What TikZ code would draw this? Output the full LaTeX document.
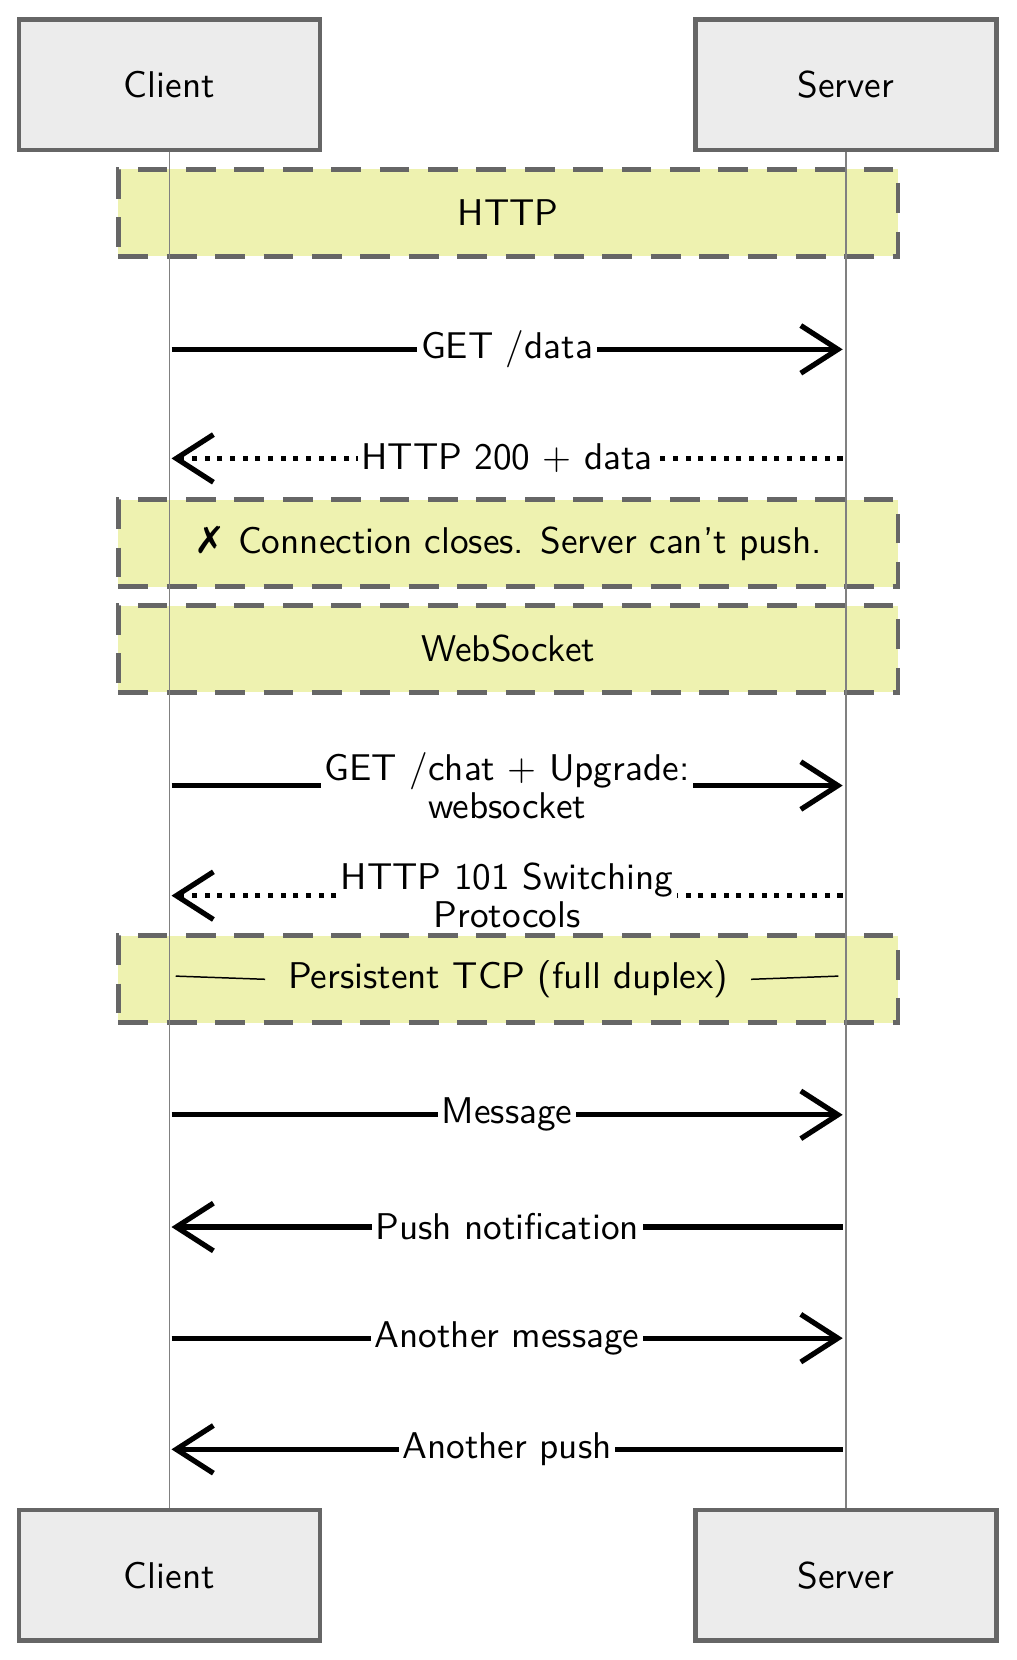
\documentclass[tikz,border=0pt]{standalone}
\usepackage{fontspec}
\newfontfamily\dejavu{DejaVu Sans}
\usetikzlibrary{arrows.meta,positioning}
\definecolor{notefill}{HTML}{EEF2B0}
\tikzset{
  actor/.style = {draw = gray!80!black, line width = 1.2pt, fill = gray!15, minimum width = 2.84cm, minimum height = 1.23cm, font = \sffamily},
  note/.style = {draw = gray!80!black, dashed, dash pattern = on 8pt off 5pt, line width = 1.3pt, fill = notefill, minimum width = 7.36cm, minimum height = 0.82cm, font = \sffamily},
  msg/.style = {line width = 1.4pt, -{Straight Barb[length = 3.5mm, width = 4.5mm]}},
  reply/.style = {line width = 1.4pt, dotted, -{Straight Barb[length = 3.5mm, width = 4.5mm]}},
  lbl/.style = {fill = white, inner sep = 1pt, font = \sffamily\linespread{0.85}\selectfont, align = center}
}
\begin{document}
\begin{tikzpicture}[x = 0.01cm, y = -0.01cm]
\useasboundingbox (0,0) rectangle (960,1568);
% actors
\node[actor] (c1) at (160,80) {Client};
\node[actor] (s1) at (799,80) {Server};
\node[actor] (c2) at (160,1488) {Client};
\node[actor] (s2) at (799,1488) {Server};
% notes
\node[note] (n1) at (480,201) {HTTP};
\node[note] (n2) at (480,513) {{\dejavu ✗} Connection closes. Server can't push.};
\node[note] (n3) at (480,613) {WebSocket};
\node[note] (n4) at (480,925) {};
\draw[gray, thin] (c1) -- (c2);
\draw[gray, thin] (s1) -- (s2);
\node[lbl, fill = none, inner sep = 6pt] (n4t) at (480,925) {Persistent TCP (full duplex)};
\coordinate (p1) at (166,922);
\coordinate (p2) at (792,922);
\draw[thin] (p1) -- (n4t.west) (n4t.east) -- (p2);
% messages
\foreach \y/\dir/\sty/\txt in {
  330/r/msg/{GET /data},
  433/l/reply/{HTTP 200 + data},
  742/r/msg/{GET /chat + Upgrade:\\websocket},
  846/l/reply/{HTTP 101 Switching\\Protocols},
  1053/r/msg/{Message},
  1159/l/msg/{Push notification},
  1264/r/msg/{Another message},
  1369/l/msg/{Another push}} {
  \coordinate (a\y) at (162,\y);
  \coordinate (b\y) at (796,\y);
  \if\dir r
    \draw[\sty] (a\y) -- (b\y) node[lbl, midway] {\txt};
  \else
    \draw[\sty] (b\y) -- (a\y) node[lbl, midway] {\txt};
  \fi
}
\end{tikzpicture}
\end{document}
